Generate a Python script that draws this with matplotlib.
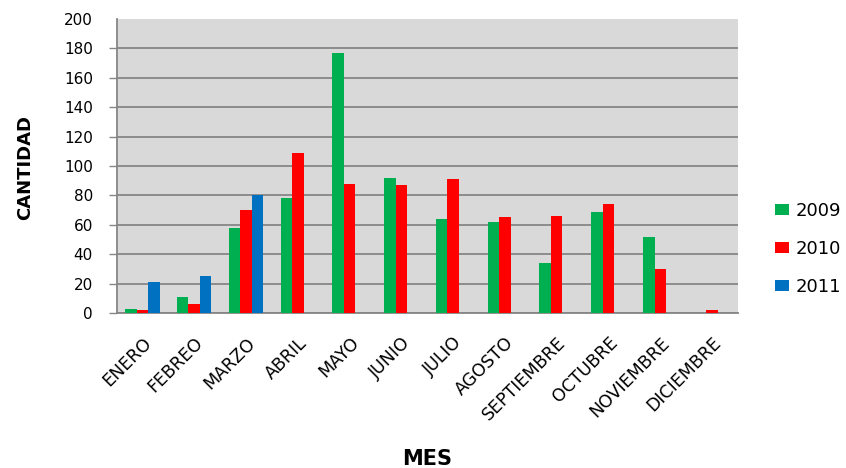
import matplotlib.pyplot as plt
import numpy as np

meses = ['ENERO', 'FEBREO', 'MARZO', 'ABRIL', 'MAYO', 'JUNIO', 'JULIO',
         'AGOSTO', 'SEPTIEMBRE', 'OCTUBRE', 'NOVIEMBRE', 'DICIEMBRE']
v2009 = [3, 11, 58, 78, 177, 92, 64, 62, 34, 69, 52, 0]
v2010 = [2, 6, 70, 109, 88, 87, 91, 65, 66, 74, 30, 2]
v2011 = [21, 25, 80]
yticks = [0, 20, 40, 60, 80, 100, 120, 140, 160, 180, 200]

colores = {'2009': '#00B050', '2010': '#FF0000', '2011': '#0070C0'}

fig = plt.figure(figsize=(8.46, 4.68), dpi=100)
ax = fig.add_axes([116.5 / 846, 1 - 313 / 468, (738 - 116.5) / 846, (313 - 19) / 468])
ax.set_facecolor('#D9D9D9')

x = np.arange(len(meses))
w = 0.222
ax.bar(x - w, v2009, w, color=colores['2009'], label='2009', zorder=3)
ax.bar(x, v2010, w, color=colores['2010'], label='2010', zorder=3)
ax.bar(x[:len(v2011)] + w, v2011, w, color=colores['2011'], label='2011', zorder=3)

ax.set_xlim(-0.5, len(meses) - 0.5)
ax.set_ylim(0, 200)
ax.set_yticks(yticks)
ax.set_yticklabels([str(v) for v in yticks], fontsize=11)
ax.yaxis.grid(True, color='#868686', linewidth=1.3, zorder=1)
ax.set_axisbelow(True)
ax.tick_params(axis='y', length=6, width=1, color='#868686', pad=11)
last = ax.yaxis.get_major_ticks()[-1]
last.tick1line.set_visible(False)
last.gridline.set_visible(False)

ax.set_xticks(x)
ax.set_xticklabels(meses, fontsize=12.5, rotation=45, ha='right', va='top',
                   rotation_mode='anchor')
ax.tick_params(axis='x', length=0, pad=15)

for s in ['top', 'right']:
    ax.spines[s].set_visible(False)
for s in ['left', 'bottom']:
    ax.spines[s].set_color('#868686')
    ax.spines[s].set_linewidth(1.3)

fig.text(25 / 846, 1 - 167 / 468, 'CANTIDAD', rotation=90, fontsize=13,
         fontweight='bold', ha='center', va='center')
fig.text(427 / 846, 3 / 468, 'MES', fontsize=15, fontweight='bold',
         ha='center', va='baseline')

fig.legend(loc='upper left', bbox_to_anchor=(775 / 846, 1 - 202 / 468),
           frameon=False, fontsize=13, handlelength=0.8, handleheight=0.55,
           handletextpad=0.35, labelspacing=1.1, borderpad=0, borderaxespad=0)

fig.savefig('out.png', dpi=100)
